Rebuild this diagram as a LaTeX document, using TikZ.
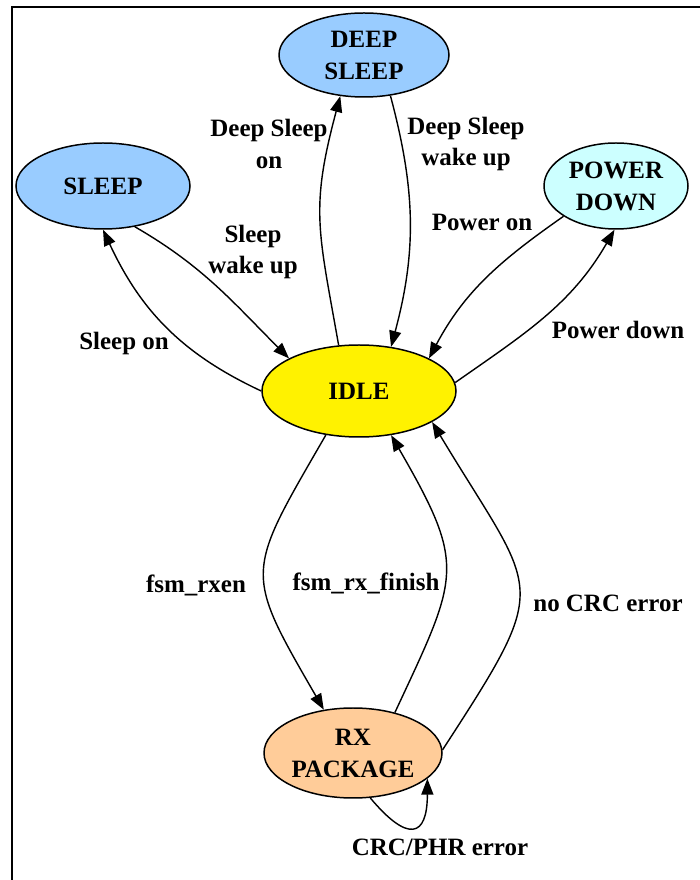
\documentclass[tikz,border=0pt]{standalone}
\usepackage{fontspec}
\setmainfont{Liberation Serif}
\usetikzlibrary{shapes.geometric,arrows.meta}
\definecolor{sleepblue}{HTML}{99CCFF}
\definecolor{pdcyan}{HTML}{CCFFFF}
\definecolor{rxorange}{HTML}{FFCC99}
\begin{document}
\begin{tikzpicture}[>={Triangle[length=0.32cm,width=0.24cm]},
    font=\fontsize{14.2}{18.2}\selectfont\bfseries,
    state/.style={draw, ellipse, line width=0.85pt, inner sep=0pt, align=center},
    lbl/.style={align=center, inner sep=1pt},
    edge/.style={->, line width=0.8pt}]
    \useasboundingbox (0,0) rectangle (14,17.6);
    \draw[line width=1.1pt] (0.24,0) -- (0.24,17.46) -- (14,17.46);
    \node[state, fill=sleepblue, minimum width=3.4cm, minimum height=1.68cm] (deep) at (7.28,16.5) {DEEP\\SLEEP};
    \node[state, fill=sleepblue, minimum width=3.48cm, minimum height=1.72cm] (sleep) at (2.06,13.88) {SLEEP};
    \node[state, fill=pdcyan, minimum width=2.88cm, minimum height=1.72cm] (power) at (12.32,13.88) {POWER\\DOWN};
    \node[state, fill=yellow, minimum width=3.88cm, minimum height=1.84cm] (idle) at (7.18,9.78) {IDLE};
    \node[state, fill=rxorange, minimum width=3.56cm, minimum height=1.8cm] (rx) at (7.06,2.54) {RX\\PACKAGE};
    \draw[edge] (idle.180) to[out=155, in=-65] (sleep.south);
    \draw[edge] (sleep.-52) to[out=-30, in=135] (idle.155);
    \draw[edge] (idle.114) to[out=100, in=-105, looseness=1.2] (deep.240);
    \draw[edge] (deep.-57) to[out=-75, in=75] (idle.54);
    \draw[edge] (power.210) to[out=215, in=62] (idle.25);
    \draw[edge] (idle.5) to[out=35, in=-120] (power.-92);
    \draw[edge] (idle.233) to[out=240, in=120, looseness=1.5] (rx.124);
    \draw[edge] (rx.44) to[out=65, in=-60, looseness=1.4] (idle.-54);
    \draw[edge] (rx.2) to[out=57, in=-59, looseness=1.6] (idle.-23);
    \draw[edge] (rx.-69) to[out=-50, in=-90, looseness=2.5] (rx.-19);
    \node[lbl] (sleepon) at (2.48,10.72) {Sleep on};
    \node[lbl] (sleepwake) at (5.06,12.56) {Sleep\\wake up};
    \node[lbl] (deepon) at (5.38,14.72) {Deep Sleep\\on};
    \node[lbl] (deepwake) at (9.32,14.72) {Deep Sleep\\wake up};
    \node[lbl] (poweron) at (9.64,13.16) {Power on};
    \node[lbl] (powerdown) at (12.36,11.0) {Power down};
    \node[lbl] (rxen) at (3.92,5.9) {fsm\_rxen};
    \node[lbl] (rxfinish) at (7.32,5.94) {fsm\_rx\_finish};
    \node[lbl] (nocrc) at (12.16,5.54) {no CRC error};
    \node[lbl] (crcphr) at (8.8,0.66) {CRC/PHR error};
\end{tikzpicture}
\end{document}
